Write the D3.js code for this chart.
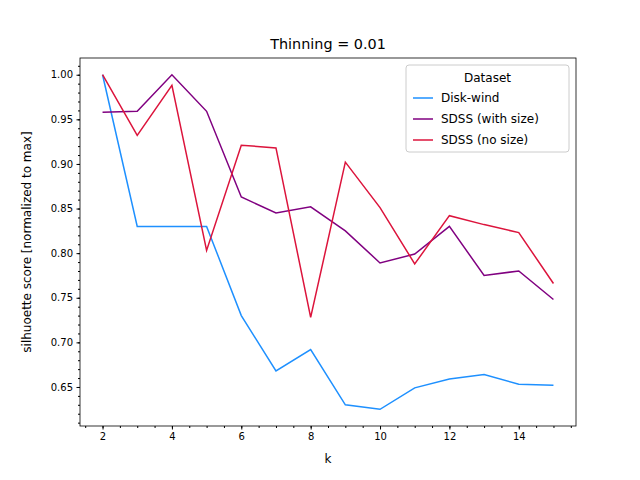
<!DOCTYPE html>
<html><head><meta charset="utf-8">
<script src="https://cdn.jsdelivr.net/npm/d3@7"></script>
<style>body{margin:0;background:#fff}text{font-family:"DejaVu Sans",sans-serif}</style>
</head><body><div id="chart"></div>
<script>
const WIDTH = 640, HEIGHT = 480;
const MARGIN = { left: 80, right: 64, top: 58, bottom: 54 };

const ks = [2, 3, 4, 5, 6, 7, 8, 9, 10, 11, 12, 13, 14, 15];
const diskWind = [1.0, 0.83, 0.83, 0.83, 0.730, 0.668, 0.692, 0.630, 0.625, 0.649, 0.659, 0.664, 0.653, 0.652];
const sdssSize = [0.958, 0.959, 1.0, 0.959, 0.863, 0.845, 0.852, 0.825, 0.789, 0.799, 0.830, 0.775, 0.780, 0.748];
const sdssNoSize = [1.0, 0.932, 0.988, 0.803, 0.921, 0.918, 0.728, 0.902, 0.851, 0.788, 0.842, 0.832, 0.823, 0.766];
const seriesNames = ["Disk-wind", "SDSS (with size)", "SDSS (no size)"];
const seriesColors = ["#1e90ff", "#800080", "#dc143c"];
const series = [diskWind, sdssSize, sdssNoSize];
const yTicks = [0.65, 0.70, 0.75, 0.80, 0.85, 0.90, 0.95, 1.00];

const w = WIDTH - MARGIN.left - MARGIN.right;
const h = HEIGHT - MARGIN.top - MARGIN.bottom;

const svg = d3.select("#chart").append("svg").attr("width", WIDTH).attr("height", HEIGHT);
const g = svg.append("g").attr("transform", `translate(${MARGIN.left},${MARGIN.top})`);

const allY = series.flat();
const yMin = d3.min(allY), yMax = d3.max(allY), pad = (yMax - yMin) * 0.05;
const x = d3.scaleLinear().domain([2 - 0.65, 15 + 0.65]).range([0, w]);
const y = d3.scaleLinear().domain([yMin - pad, yMax + pad]).range([h, 0]);

// minor ticks
g.append("g").attr("transform", `translate(0,${h})`)
  .call(d3.axisBottom(x).tickValues(d3.range(1.5, 16, 0.5)).tickSize(2).tickFormat(""))
  .call(a => a.select(".domain").remove());
g.append("g")
  .call(d3.axisLeft(y).tickValues(d3.range(0.61, 1.02, 0.01)).tickSize(2).tickFormat(""))
  .call(a => a.select(".domain").remove());

// major ticks
g.append("g").attr("transform", `translate(0,${h})`)
  .call(d3.axisBottom(x).tickValues([2, 4, 6, 8, 10, 12, 14]).tickSize(3.5).tickPadding(3.5))
  .call(a => a.select(".domain").remove())
  .selectAll("text").attr("font-size", 10).attr("fill", "#000");
g.append("g")
  .call(d3.axisLeft(y).tickValues(yTicks).tickSize(3.5).tickPadding(3.5).tickFormat(d3.format(".2f")))
  .call(a => a.select(".domain").remove())
  .selectAll("text").attr("font-size", 10).attr("fill", "#000");

const line = d3.line().x((d, i) => x(ks[i])).y(d => y(d));
series.forEach((s, i) => {
  g.append("path").datum(s).attr("d", line).attr("fill", "none")
    .attr("stroke", seriesColors[i]).attr("stroke-width", 1.5);
});

g.append("rect").attr("width", w).attr("height", h).attr("fill", "none").attr("stroke", "#000").attr("stroke-width", 0.8);

svg.append("text").attr("x", MARGIN.left + w / 2).attr("y", 49).attr("text-anchor", "middle")
  .attr("font-size", 14.4).text("Thinning = 0.01");
svg.append("text").attr("x", MARGIN.left + w / 2).attr("y", 463).attr("text-anchor", "middle")
  .attr("font-size", 12).text("k");
svg.append("text").attr("transform", `translate(31,${MARGIN.top + h / 2}) rotate(-90)`)
  .attr("text-anchor", "middle").attr("font-size", 12).text("silhuoette score [normalized to max]");

// legend
const lg = svg.append("g").attr("transform", "translate(406,65)");
lg.append("rect").attr("width", 163).attr("height", 87).attr("rx", 3).attr("fill", "#fff")
  .attr("fill-opacity", 0.8).attr("stroke", "#ccc");
lg.append("text").attr("x", 81.5).attr("y", 17).attr("text-anchor", "middle").attr("font-size", 12).text("Dataset");
seriesNames.forEach((n, i) => {
  const yy = 37 + i * 21;
  lg.append("line").attr("x1", 7).attr("x2", 27).attr("y1", yy - 4).attr("y2", yy - 4)
    .attr("stroke", seriesColors[i]).attr("stroke-width", 1.5);
  lg.append("text").attr("x", 35).attr("y", yy).attr("font-size", 12).text(n);
});
</script></body></html>
